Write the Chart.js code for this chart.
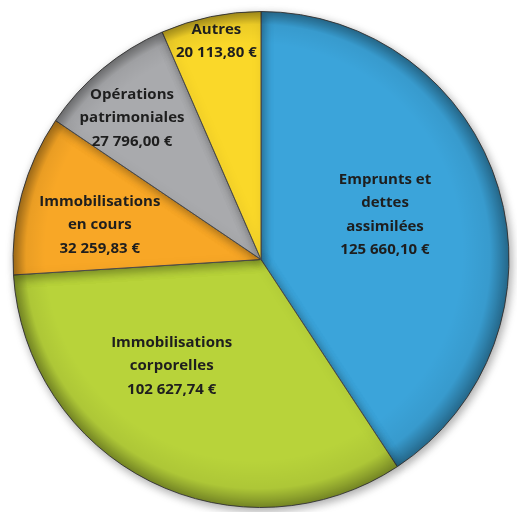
<!DOCTYPE html>
<html>
<head>
<meta charset="utf-8">
<script src="https://cdn.jsdelivr.net/npm/chart.js@4"></script>
<style>
    html, body { margin: 0; padding: 0; background: #ffffff; }
    #wrap { width: 517px; height: 512px; position: relative; }
</style>
</head>
<body>
<div id="wrap"><canvas id="pieChart"></canvas></div>
<script>
// Données du graphique
const categories = [
    ["Emprunts et", "dettes", "assimilées"],
    ["Immobilisations", "corporelles"],
    ["Immobilisations", "en cours"],
    ["Opérations", "patrimoniales"],
    ["Autres"],
];
const montants = [125660.1, 102627.74, 32259.83, 27796.0, 20113.8];
const couleurs = ["#3ba4da", "#b8d33a", "#f8a726", "#a9aaad", "#fad829"];

// position des étiquettes, en fraction du rayon (par rapport au centre)
const labelOffsets = [
    [0.5, -0.18],
    [-0.36, 0.43],
    [-0.65, -0.14],
    [-0.52, -0.57],
    [-0.18, -0.88],
];

function formatEuro(v) {
    const parts = v.toFixed(2).split(".");
    const ent = parts[0].replace(/\B(?=(\d{3})+(?!\d))/g, " ");
    return ent + "," + parts[1] + " €";
}

// ombre portée autour du camembert
const shadowPlugin = {
    id: "shadow",
    beforeDatasetsDraw(chart) {
        const ctx = chart.ctx;
        ctx.save();
        ctx.shadowColor = "rgba(0, 0, 0, 0.35)";
        ctx.shadowBlur = 10;
        ctx.shadowOffsetX = 2;
        ctx.shadowOffsetY = 3;
    },
    afterDatasetsDraw(chart) {
        chart.ctx.restore();
    },
};

// effet de biseau + étiquettes
const bevelLabels = {
    id: "bevelLabels",
    afterDraw(chart) {
        const ctx = chart.ctx;
        const arcs = chart.getDatasetMeta(0).data;
        if (!arcs.length) return;
        const cx = arcs[0].x;
        const cy = arcs[0].y;
        const r = arcs[0].outerRadius;

        ctx.save();
        const grad = ctx.createRadialGradient(cx - r * 0.03, cy - r * 0.03, r * 0.84, cx, cy, r);
        grad.addColorStop(0, "rgba(0,0,0,0)");
        grad.addColorStop(0.6, "rgba(0,0,0,0.06)");
        grad.addColorStop(1, "rgba(0,0,0,0.36)");
        ctx.beginPath();
        ctx.arc(cx, cy, r, 0, Math.PI * 2);
        ctx.fillStyle = grad;
        ctx.fill();
        ctx.restore();

        ctx.save();
        ctx.font = "bold 15px 'Open Sans', Lato, sans-serif";
        ctx.fillStyle = "#1e1e1e";
        ctx.textAlign = "center";
        ctx.textBaseline = "middle";
        const lh = 23.5;
        categories.forEach((lines, i) => {
            const all = lines.concat([formatEuro(montants[i])]);
            const x = cx + labelOffsets[i][0] * r;
            const y = cy + labelOffsets[i][1] * r;
            const y0 = y - ((all.length - 1) * lh) / 2;
            all.forEach((t, j) => ctx.fillText(t, x, y0 + j * lh));
        });
        ctx.restore();
    },
};

const ctx = document.getElementById("pieChart").getContext("2d");
new Chart(ctx, {
    type: "pie",
    data: {
        labels: categories.map((c) => c.join(" ")),
        datasets: [
            {
                data: montants,
                backgroundColor: couleurs,
                borderColor: "#4a4a4a",
                borderWidth: 1,
            },
        ],
    },
    options: {
        responsive: true,
        maintainAspectRatio: false,
        animation: false,
        layout: {
            padding: { left: 12, right: 7, top: 11, bottom: 4 },
        },
        plugins: {
            legend: { display: false },
            tooltip: { enabled: false },
        },
    },
    plugins: [shadowPlugin, bevelLabels],
});
</script>
</body>
</html>
